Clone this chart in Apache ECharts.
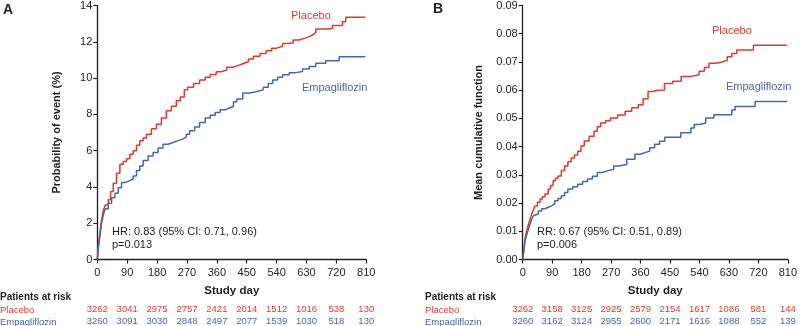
<!DOCTYPE html>
<html>
<head>
<meta charset="utf-8">
<script src="https://cdn.jsdelivr.net/npm/echarts@6/dist/echarts.min.js"></script>
<style>
  html, body { margin: 0; padding: 0; background: #fff; }
  #main { width: 800px; height: 326px; }
</style>
</head>
<body>
<div id="main"></div>
<script>
// 两幅图：A 为首次事件概率，B 为平均累积函数
const tickDays = [0, 90, 180, 270, 360, 450, 540, 630, 720, 810];

// [study day, value]
const placeboA = [[0,0],[2,0.5],[4,0.9],[6,1.2],[8,1.5],[10,1.8],[13,2.2],[18,2.7],[24,3.0],[33,3.3],[40,3.75],[48,4.2],[58,4.75],[68,5.25],[78,5.4],[88,5.55],[98,5.8],[108,6.0],[118,6.3],[128,6.55],[138,6.7],[148,6.9],[163,7.2],[178,7.45],[193,7.8],[208,8.2],[223,8.45],[238,8.75],[250,8.95],[262,9.35],[272,9.5],[290,9.7],[308,9.9],[325,10.05],[340,10.2],[358,10.35],[373,10.45],[390,10.6],[408,10.7],[425,10.8],[440,10.9],[455,11.05],[470,11.2],[490,11.35],[508,11.5],[525,11.65],[540,11.75],[558,11.9],[575,11.95],[590,12.1],[608,12.2],[625,12.3],[640,12.4],[650,12.5],[658,12.7],[698,12.75],[708,12.9],[738,13.1],[748,13.35],[807,13.35]];
const empaA = [[0,0],[2,0.4],[4,0.75],[6,1.05],[8,1.3],[10,1.6],[13,2.0],[18,2.45],[24,2.8],[33,3.1],[43,3.4],[53,3.65],[63,3.95],[73,4.25],[85,4.35],[98,4.45],[108,4.6],[118,4.9],[128,5.15],[138,5.45],[153,5.7],[168,5.9],[183,6.15],[198,6.35],[213,6.45],[228,6.55],[243,6.65],[258,6.75],[268,6.9],[278,7.1],[293,7.3],[308,7.55],[325,7.8],[340,7.95],[355,8.1],[370,8.25],[385,8.35],[398,8.45],[410,8.7],[420,8.85],[438,9.18],[458,9.25],[478,9.35],[500,9.5],[515,9.7],[528,9.9],[543,10.05],[558,10.18],[578,10.3],[598,10.36],[618,10.5],[638,10.64],[658,10.82],[688,10.95],[728,11.18],[807,11.18]];
const placeboB = [[0,0],[3,0.003],[5,0.0055],[8,0.008],[13,0.0105],[18,0.0126],[23,0.0145],[28,0.0162],[33,0.0177],[38,0.019],[45,0.0203],[53,0.0214],[60,0.0222],[68,0.0232],[78,0.025],[85,0.0262],[93,0.0279],[100,0.0288],[108,0.0296],[118,0.0315],[128,0.0331],[138,0.0346],[148,0.036],[158,0.037],[168,0.0384],[178,0.0402],[188,0.042],[203,0.0437],[218,0.0454],[228,0.047],[238,0.0484],[253,0.0492],[268,0.0501],[290,0.0512],[313,0.0525],[333,0.0538],[353,0.0548],[368,0.057],[383,0.0595],[398,0.06],[413,0.0601],[433,0.0624],[458,0.0632],[484,0.0648],[510,0.0655],[539,0.0667],[555,0.068],[569,0.0695],[590,0.07],[609,0.0706],[625,0.0718],[639,0.073],[654,0.0742],[705,0.0759],[808,0.0759]];
const empaB = [[0,0],[3,0.0028],[5,0.0048],[8,0.0068],[13,0.009],[18,0.011],[23,0.0128],[28,0.0144],[33,0.0155],[38,0.0162],[48,0.0172],[58,0.018],[68,0.0185],[78,0.019],[88,0.0197],[98,0.0208],[108,0.0216],[118,0.0226],[128,0.0237],[138,0.025],[153,0.0258],[168,0.0267],[183,0.0276],[198,0.0285],[213,0.0295],[228,0.0308],[243,0.0314],[258,0.032],[278,0.0331],[293,0.0337],[318,0.0355],[343,0.0373],[358,0.0378],[373,0.0384],[388,0.0396],[403,0.0408],[418,0.0419],[434,0.0433],[483,0.0449],[514,0.0466],[524,0.0478],[540,0.0484],[559,0.0501],[584,0.0513],[639,0.053],[649,0.0542],[710,0.056],[808,0.056]];

// patients at risk
const riskPlaceboA = [3262, 3041, 2975, 2757, 2421, 2014, 1512, 1016, 538, 130];
const riskEmpaA = [3260, 3091, 3030, 2848, 2497, 2077, 1539, 1030, 518, 130];
const riskPlaceboB = [3262, 3158, 3125, 2925, 2579, 2154, 1617, 1086, 581, 144];
const riskEmpaB = [3260, 3162, 3124, 2955, 2600, 2171, 1616, 1088, 552, 139];

const RED = '#e2392f';
const BLUE = '#4567ad';
const INK = '#1f1f1f';
const FONT = '"Liberation Sans", Arial, sans-serif';

const chart = echarts.init(document.getElementById('main'));

function mainX(gridIndex) {
    return {
        type: 'value', gridIndex: gridIndex, min: 0, max: 810, interval: 90,
        name: 'Study day', nameLocation: 'middle', nameGap: 25,
        nameTextStyle: { color: INK, fontSize: 11.5, fontWeight: 'bold', fontFamily: FONT },
        axisLine: { lineStyle: { color: INK, width: 1.3 } },
        axisTick: { length: 4, lineStyle: { color: INK, width: 1.2 } },
        axisLabel: { color: INK, fontSize: 11, fontFamily: FONT, margin: 8 },
        splitLine: { show: false }
    };
}

// the at-risk rows are drawn as extra label-only axes under each plot
function riskX(gridIndex, counts, color, offset) {
    return {
        type: 'value', gridIndex: gridIndex, min: 0, max: 810, interval: 90,
        position: 'bottom', offset: offset,
        axisLine: { show: false }, axisTick: { show: false }, splitLine: { show: false },
        axisLabel: {
            color: color, fontSize: 9.5, fontFamily: FONT, margin: 0,
            formatter: v => String(counts[tickDays.indexOf(v)])
        }
    };
}

function yAxis(gridIndex, max, interval, name, gap, fmt) {
    return {
        type: 'value', gridIndex: gridIndex, min: 0, max: max, interval: interval,
        name: name, nameLocation: 'middle', nameGap: gap,
        nameTextStyle: { color: INK, fontSize: 11, fontWeight: 'bold', fontFamily: FONT },
        axisLine: { show: true, lineStyle: { color: INK, width: 1.3 } },
        axisTick: { show: true, length: 4, lineStyle: { color: INK, width: 1.2 } },
        axisLabel: { color: INK, fontSize: 11, fontFamily: FONT, margin: 5, formatter: fmt },
        splitLine: { show: false }
    };
}

function curve(name, data, color, idx) {
    return {
        name: name, type: 'line', step: 'end', data: data,
        xAxisIndex: idx, yAxisIndex: idx, symbol: 'none',
        lineStyle: { color: color, width: 1.5 }, silent: true, animation: false
    };
}

function txt(x, y, text, color, size, weight, lh) {
    const style = {
        text: text, fill: color, fontSize: size, fontWeight: weight || 'normal',
        fontFamily: FONT
    };
    if (lh) style.lineHeight = lh;
    return { type: 'text', left: x, top: y, style: style };
}

const option = {
    animation: false,
    grid: [
        { left: 97.3, top: 4, width: 269, height: 256 },
        { left: 522.7, top: 4, width: 269, height: 256 }
    ],
    xAxis: [
        mainX(0), mainX(1),
        riskX(0, riskPlaceboA, RED, 45), riskX(0, riskEmpaA, BLUE, 56.5),
        riskX(1, riskPlaceboB, RED, 45), riskX(1, riskEmpaB, BLUE, 56.5)
    ],
    yAxis: [
        yAxis(0, 14, 2, 'Probability of event (%)', 35, v => String(v)),
        yAxis(1, 0.09, 0.01, 'Mean cumulative function', 38, v => v.toFixed(2))
    ],
    series: [
        curve('Placebo', placeboA, RED, 0),
        curve('Empagliflozin', empaA, BLUE, 0),
        curve('Placebo', placeboB, RED, 1),
        curve('Empagliflozin', empaB, BLUE, 1)
    ],
    graphic: [
        txt(3, 3, 'A', INK, 14, 'bold'),
        txt(433, 2, 'B', INK, 14, 'bold'),
        txt(112, 225, 'HR: 0.83 (95% CI: 0.71, 0.96)\np=0.013', INK, 11, 'normal', 13.5),
        txt(537, 225, 'RR: 0.67 (95% CI: 0.51, 0.89)\np=0.006', INK, 11, 'normal', 13.5),
        txt(291, 10.5, 'Placebo', RED, 11),
        txt(302, 82, 'Empagliflozin', BLUE, 11),
        txt(712, 25.5, 'Placebo', RED, 11),
        txt(726, 81.5, 'Empagliflozin', BLUE, 11),
        txt(0, 292, 'Patients at risk', INK, 10, 'bold'),
        txt(0, 305.5, 'Placebo', RED, 9.5),
        txt(0, 317, 'Empagliflozin', BLUE, 9.5),
        txt(425, 292, 'Patients at risk', INK, 10, 'bold'),
        txt(425, 305.5, 'Placebo', RED, 9.5),
        txt(425, 317, 'Empagliflozin', BLUE, 9.5)
    ]
};

chart.setOption(option);
</script>
</body>
</html>
